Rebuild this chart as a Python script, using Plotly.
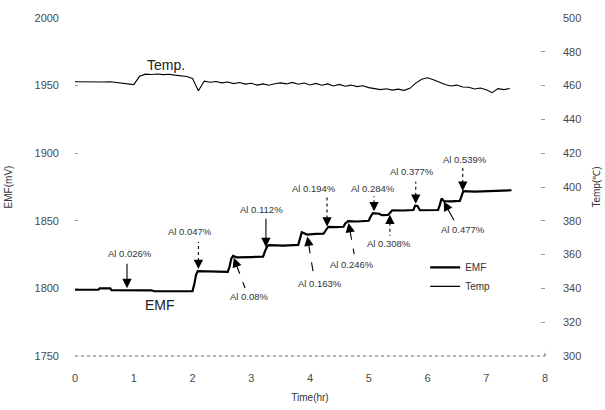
import math
import numpy as np
import plotly.graph_objects as go

# ---------------- data ----------------
emf_time = [0.0, 0.2, 0.4, 0.42, 0.6, 0.62, 1.0, 1.3, 1.35, 1.7,
            2.0, 2.03, 2.06, 2.09, 2.3, 2.45, 2.6, 2.63, 2.66, 2.69,
            2.75, 3.0, 3.2, 3.23, 3.27, 3.3, 3.55, 3.8, 3.83, 3.86,
            3.89, 3.95, 4.1, 4.23, 4.27, 4.31, 4.45, 4.57, 4.6, 4.65,
            4.8, 5.0, 5.03, 5.07, 5.18, 5.22, 5.33, 5.36, 5.4, 5.6,
            5.76, 5.79, 5.83, 5.87, 6.05, 6.18, 6.21, 6.24, 6.28, 6.4,
            6.55, 6.58, 6.61, 6.8, 7.0, 7.2, 7.43]
emf_vals = [1799, 1799.2, 1799, 1800, 1800.1, 1798.7, 1798.7, 1798.6, 1797.9, 1797.9,
            1798.0, 1803, 1810, 1812.8, 1812.5, 1812.6, 1812.3, 1816, 1822, 1824,
            1823, 1823.2, 1823.4, 1827, 1831, 1832, 1831.7, 1832.2, 1836, 1841.5,
            1841, 1839.8, 1840.3, 1840.4, 1843, 1845.5, 1845.3, 1845.6, 1848, 1849.8,
            1849.5, 1850, 1853, 1855.6, 1855.2, 1854.2, 1854.3, 1856, 1857.8, 1857.6,
            1858, 1861.2, 1861, 1857.8, 1857.7, 1858, 1862, 1866.5, 1864.6, 1864.3,
            1864.7, 1868, 1871.9, 1871.6, 1872, 1872.2, 1872.6]

temp_time = [0.0, 0.1, 0.2, 0.3, 0.4, 0.5, 0.6, 0.7, 0.8, 0.9,
             1.0, 1.1, 1.2, 1.3, 1.4, 1.5, 1.6, 1.7, 1.8, 1.9,
             2.0, 2.1, 2.2, 2.3, 2.4, 2.5, 2.6, 2.7, 2.8, 2.9,
             3.0, 3.1, 3.2, 3.3, 3.4, 3.5, 3.6, 3.7, 3.8, 3.9,
             4.0, 4.1, 4.2, 4.3, 4.4, 4.5, 4.6, 4.7, 4.8, 4.9,
             5.0, 5.1, 5.2, 5.3, 5.4, 5.5, 5.6, 5.7, 5.8, 5.9,
             6.0, 6.1, 6.2, 6.3, 6.4, 6.5, 6.6, 6.7, 6.8, 6.9,
             7.0, 7.1, 7.2, 7.3, 7.4]
temp_vals = [462.3, 462.2, 462.4, 462.2, 462.3, 462.1, 462.3, 461.9, 461.6, 461.2,
             460.6, 465.5, 466.8, 466.6, 466.9, 466.5, 466.7, 466.2, 465.9, 465.4,
             464.2, 457.0, 462.6, 462.0, 462.4, 461.6, 462.1, 461.2, 461.8, 460.9,
             461.4, 460.3, 461.0, 460.2, 461.1, 461.6, 461.0, 461.9, 460.8, 461.5,
             460.4, 461.3, 460.2, 461.0, 459.8, 460.7, 459.6, 460.3, 459.4, 459.9,
             458.8, 458.2, 457.6, 458.1, 457.3, 457.9, 457.2, 458.4, 461.5, 463.8,
             464.6, 463.5, 462.0, 460.6, 459.8, 460.3, 459.2, 459.0, 458.0, 458.6,
             457.5, 455.8, 458.2, 457.6, 458.3]

al_labels = ["Al 0.026%", "Al 0.047%", "Al 0.08%", "Al 0.112%", "Al 0.163%", "Al 0.194%",
             "Al 0.246%", "Al 0.284%", "Al 0.308%", "Al 0.377%", "Al 0.477%", "Al 0.539%"]
al_times = [0.885, 2.1, 2.69, 3.25, 3.95, 4.29, 4.65, 5.09, 5.36, 5.8, 6.26, 6.6]

x_ticks = [0, 1, 2, 3, 4, 5, 6, 7, 8]
emf_ticks = [1750, 1800, 1850, 1900, 1950, 2000]
temp_ticks = [300, 320, 340, 360, 380, 400, 420, 440, 460, 480, 500]

# ---------------- layout helpers (pixel offsets of arrow tails / labels) ----------------
tail_off = [(0, -28), (0, -29), (12, 32), (0, -32), (6, 37), (0, -31),
            (6, 33), (0, -17), (0, 23), (0, -24), (12, 22), (0, -25)]
text_off = [(3, -37), (-8, -40), (16, 41), (-4, -40), (13, 49), (-13, -40),
            (4, 43), (-1, -25), (-1, 31), (-4, -34), (20, 30), (2, -33)]
styles = ["solid", "dot", "dash", "solid", "dash", "dot",
          "dash", "dot", "dot", "dot", "solid", "dot"]

FONT = "Liberation Sans, Arial, sans-serif"
TXT = "#333333"
TICK = "#4a4a4a"

fig = go.Figure()
fig.add_trace(go.Scatter(x=emf_time, y=emf_vals, name="EMF", mode="lines",
                         line=dict(color="black", width=2.2)))
fig.add_trace(go.Scatter(x=temp_time, y=temp_vals, name="Temp", mode="lines",
                         line=dict(color="black", width=1.1), yaxis="y2"))

annotations = []
shapes = []
for lab, t, (tx, ty), (lx, ly), st in zip(al_labels, al_times, tail_off, text_off, styles):
    yh = float(np.interp(t, emf_time, emf_vals))
    annotations.append(dict(x=t, y=yh, xref="x", yref="y", text=lab, showarrow=False,
                            xshift=lx, yshift=-ly,
                            font=dict(family=FONT, size=9.5, color=TXT)))
    if st == "solid":
        annotations.append(dict(x=t, y=yh, xref="x", yref="y", text="", showarrow=True,
                                ax=tx, ay=ty, arrowhead=2, arrowsize=1.7, arrowwidth=1.1,
                                arrowcolor="black", standoff=2))
    else:
        L = math.hypot(tx, ty)
        sx, sy = tx * 10 / L, ty * 10 / L
        annotations.append(dict(x=t, y=yh, xref="x", yref="y", text="", showarrow=True,
                                ax=sx, ay=sy, arrowhead=2, arrowsize=1.7, arrowwidth=1.1,
                                arrowcolor="black", standoff=2))
        shapes.append(dict(type="line", xref="x", yref="y", xsizemode="pixel", ysizemode="pixel",
                           xanchor=t, yanchor=yh, x0=sx, y0=-sy, x1=tx, y1=-ty,
                           line=dict(color="black", width=1.1, dash=st)))

# curve labels
annotations.append(dict(x=1.55, y=1965, xref="x", yref="y", text="Temp.", showarrow=False,
                        font=dict(family=FONT, size=14, color="#222")))
annotations.append(dict(x=1.45, y=1788, xref="x", yref="y", text="EMF", showarrow=False,
                        font=dict(family=FONT, size=14, color="#222")))

# dotted bottom axis line
shapes.append(dict(type="line", xref="paper", yref="paper", x0=0, x1=1, y0=0, y1=0,
                   line=dict(color="#666", width=1, dash="dot")))
shapes.append(dict(type="line", xref="paper", yref="paper", x0=1, x1=1, y0=0, y1=0.018,
                   line=dict(color="#666", width=1, dash="dot")))

fig.update_layout(
    width=605, height=410,
    margin=dict(l=75, r=60, t=18, b=54, autoexpand=False),
    paper_bgcolor="white", plot_bgcolor="white",
    font=dict(family=FONT, size=11, color=TXT),
    showlegend=True,
    legend=dict(x=0.745, y=0.305, xanchor="left", yanchor="top",
                bgcolor="rgba(0,0,0,0)", font=dict(family=FONT, size=10, color=TXT),
                tracegroupgap=0),
    xaxis=dict(range=[0, 8], tickvals=x_ticks, showgrid=False, zeroline=False,
               showline=False, ticks="", ticklabelstandoff=14, automargin=False,
               tickfont=dict(family=FONT, size=11, color=TICK),
               title=dict(text="Time(hr)", font=dict(family=FONT, size=10, color=TXT), standoff=10)),
    yaxis=dict(range=[1750, 2000], tickvals=emf_ticks, showgrid=False, zeroline=False,
               showline=False, ticks="inside", ticklen=3, tickcolor="#999",
               ticklabelstandoff=15, automargin=False,
               tickfont=dict(family=FONT, size=11, color=TICK),
               title=dict(text="EMF(mV)", font=dict(family=FONT, size=10, color=TXT), standoff=20)),
    yaxis2=dict(range=[300, 500], tickvals=temp_ticks, overlaying="y", side="right",
                showgrid=False, zeroline=False, showline=False, ticks="inside", ticklen=4,
                tickcolor="#999", ticklabelstandoff=17, automargin=False,
                tickfont=dict(family=FONT, size=11, color=TICK),
                title=dict(text="Temp(℃)", font=dict(family=FONT, size=10, color=TXT), standoff=12)),
    annotations=annotations,
    shapes=shapes,
)

fig.write_html("out.html")
